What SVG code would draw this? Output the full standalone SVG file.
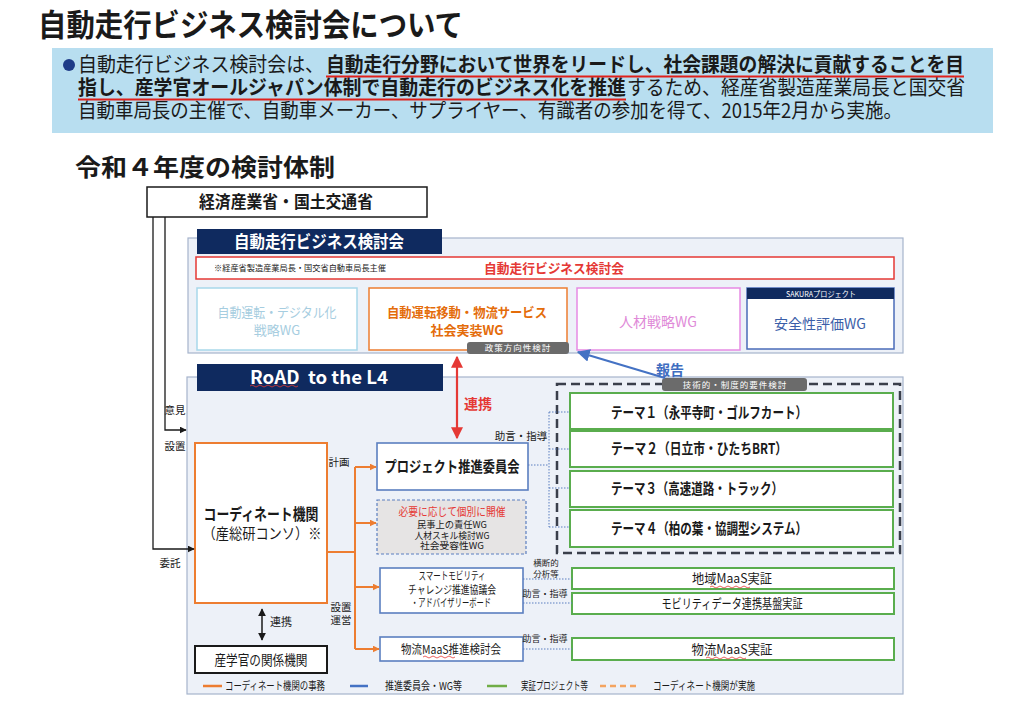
<svg xmlns="http://www.w3.org/2000/svg" width="1024" height="708" viewBox="0 0 1024 708">
<defs>
<style>
text{font-family:"Noto Sans CJK JP","Noto Sans",sans-serif;fill:#1a1a1a}
.b{font-weight:700}
.m{text-anchor:middle}
.w{fill:#ffffff}
.panel{fill:#edf1f8;stroke:#a6b4cc;stroke-width:1.2}
.navy{fill:#0f2a5f}
.tag{fill:#6b6b6b}
.tagt{fill:#ffffff;font-size:8.5px;text-anchor:middle;letter-spacing:1px}
.green{fill:#ffffff;stroke:#5aad4e;stroke-width:2}
.bluebox{fill:#ffffff;stroke:#5b7fc0;stroke-width:1.6}
.orl{fill:none;stroke:#ed7d31;stroke-width:2}
.dot{fill:none;stroke:#5b7fc0;stroke-width:1;stroke-dasharray:1.5 1.5}
.blk{fill:none;stroke:#1a1a1a;stroke-width:1.3}
.sq{fill:none;stroke:#e53935;stroke-width:0.8}
.lab{font-size:10.5px}
.sm{font-size:9px}
.leg{font-size:11px}
</style>
<marker id="ao" viewBox="0 0 10 10" refX="9" refY="5" markerWidth="7" markerHeight="7" markerUnits="userSpaceOnUse" orient="auto"><path d="M0,0 L10,5 L0,10 z" fill="#ed7d31"/></marker>
<marker id="ak" viewBox="0 0 10 10" refX="9" refY="5" markerWidth="7" markerHeight="7" markerUnits="userSpaceOnUse" orient="auto"><path d="M0,0 L10,5 L0,10 z" fill="#1a1a1a"/></marker>
<marker id="ar" viewBox="0 0 10 10" refX="9" refY="5" markerWidth="12" markerHeight="12" markerUnits="userSpaceOnUse" orient="auto-start-reverse"><path d="M0,0 L10,5 L0,10 z" fill="#e53935"/></marker>
<marker id="ab" viewBox="0 0 10 10" refX="9" refY="5" markerWidth="13" markerHeight="13" markerUnits="userSpaceOnUse" orient="auto"><path d="M0,0 L10,5 L0,10 z" fill="#4472c4"/></marker>
<marker id="akk" viewBox="0 0 10 10" refX="9" refY="5" markerWidth="8" markerHeight="8" markerUnits="userSpaceOnUse" orient="auto-start-reverse"><path d="M0,0 L10,5 L0,10 z" fill="#1a1a1a"/></marker>
</defs>
<rect width="1024" height="708" fill="#ffffff"/>

<g id="header">
<text x="38" y="36" class="b" font-size="31" textLength="425" lengthAdjust="spacingAndGlyphs">自動走行ビジネス検討会について</text>
<rect x="52" y="48" width="941" height="85" fill="#b8def0"/>
<circle cx="69" cy="65" r="6" fill="#1f3c88"/>
<text font-size="20"><tspan x="78" y="72" textLength="246" lengthAdjust="spacingAndGlyphs">自動走行ビジネス検討会は、</tspan><tspan x="326" y="72" font-weight="700" textLength="638" lengthAdjust="spacingAndGlyphs">自動走行分野において世界をリードし、社会課題の解決に貢献することを目</tspan><tspan x="78" y="95" font-weight="700" textLength="548" lengthAdjust="spacingAndGlyphs">指し、産学官オールジャパン体制で自動走行のビジネス化を推進</tspan><tspan x="627" y="95" textLength="338" lengthAdjust="spacingAndGlyphs">するため、経産省製造産業局長と国交省</tspan><tspan x="78" y="118" textLength="824" lengthAdjust="spacingAndGlyphs">自動車局長の主催で、自動車メーカー、サプライヤー、有識者の参加を得て、2015年2月から実施。</tspan></text>
<line x1="326" y1="76.5" x2="964" y2="76.5" stroke="#e0201b" stroke-width="2"/>
<line x1="78" y1="99.5" x2="626" y2="99.5" stroke="#e0201b" stroke-width="2"/>
<text x="75" y="176" class="b" font-size="24" textLength="260" lengthAdjust="spacingAndGlyphs">令和４年度の検討体制</text>
</g>

<g id="ministries">
<rect x="147" y="187" width="280" height="30" fill="#ffffff" stroke="#1a1a1a" stroke-width="1.5"/>
<text x="286" y="208" class="b m" font-size="17" textLength="174" lengthAdjust="spacingAndGlyphs">経済産業省・国土交通省</text>
</g>

<g id="business-council">
<rect x="188" y="238" width="715" height="115" class="panel"/>
<rect x="197" y="229" width="245" height="25" class="navy"/>
<text x="319" y="248" class="b m w" font-size="17" textLength="170" lengthAdjust="spacingAndGlyphs">自動走行ビジネス検討会</text>
<rect x="196" y="257" width="698" height="22" fill="#ffffff" stroke="#e53935" stroke-width="1.5"/>
<text x="214" y="271" font-size="8.5" textLength="172" lengthAdjust="spacingAndGlyphs">※経産省製造産業局長・国交省自動車局長主催</text>
<text x="554" y="273" class="b m" font-size="13" style="fill:#e53935" textLength="140" lengthAdjust="spacingAndGlyphs">自動走行ビジネス検討会</text>
</g>

<g id="wg-digital">
<rect x="197" y="288" width="160" height="62" fill="#ffffff" stroke="#a8d8ea" stroke-width="1.5"/>
<text class="m" font-size="13" style="fill:#a6cde0"><tspan x="277" y="317" textLength="119" lengthAdjust="spacingAndGlyphs">自動運転・デジタル化</tspan><tspan x="277" y="335">戦略WG</tspan></text>
</g>

<g id="wg-service">
<rect x="369" y="288" width="198" height="62" fill="#ffffff" stroke="#ed7d31" stroke-width="1.5"/>
<text class="b m" font-size="13" style="fill:#e46c0a"><tspan x="467" y="317" textLength="160" lengthAdjust="spacingAndGlyphs">自動運転移動・物流サービス</tspan><tspan x="467" y="335">社会実装WG</tspan></text>
<rect x="467" y="342" width="102" height="12" rx="3" class="tag"/>
<text x="518" y="351" class="tagt">政策方向性検討</text>
</g>

<g id="wg-human">
<rect x="577" y="288" width="163" height="62" fill="#ffffff" stroke="#e68be3" stroke-width="1.5"/>
<text x="658" y="327" class="m" font-size="14" style="fill:#e08ad8" textLength="78" lengthAdjust="spacingAndGlyphs">人材戦略WG</text>
</g>

<g id="wg-safety">
<rect x="747" y="288" width="147" height="61" fill="#ffffff" stroke="#4a6bb8" stroke-width="1.5"/>
<rect x="747" y="288" width="147" height="11" class="navy"/>
<text x="821" y="297" class="m w" font-size="8" textLength="70" lengthAdjust="spacingAndGlyphs">SAKURAプロジェクト</text>
<text x="820" y="329" class="m" font-size="14" style="fill:#3a5ea8" textLength="92" lengthAdjust="spacingAndGlyphs">安全性評価WG</text>
</g>

<g id="road-panel">
<rect x="187" y="377" width="716" height="317" class="panel"/>
<rect x="197" y="364" width="246" height="27" class="navy"/>
<text x="319" y="384" class="b m w" font-size="18" style="white-space:pre" textLength="138" lengthAdjust="spacingAndGlyphs">RoAD  to the L4</text>
<path class="sq" d="M250,386 q2,-2 4,0 t4,0 t4,0 t4,0 t4,0 t4,0 t4,0 t4,0 t4,0 t4,0 t4,0 t4,0"/>
</g>

<g id="coordinator">
<rect x="195" y="443" width="132" height="160" fill="#ffffff" stroke="#ed7d31" stroke-width="2"/>
<text class="m"><tspan x="261" y="520" font-weight="700" font-size="16" textLength="115" lengthAdjust="spacingAndGlyphs">コーディネート機関</tspan><tspan x="262" y="539" font-size="15" textLength="119" lengthAdjust="spacingAndGlyphs">（産総研コンソ）※</tspan></text>
</g>

<g id="related-orgs">
<rect x="195" y="646" width="132" height="27" fill="#ffffff" stroke="#1a1a1a" stroke-width="2"/>
<text x="261" y="665" class="m" font-size="14" textLength="93" lengthAdjust="spacingAndGlyphs">産学官の関係機関</text>
</g>

<g id="project-committee">
<rect x="377" y="443" width="151" height="47" class="bluebox"/>
<text x="452" y="472" class="b m" font-size="15" textLength="135" lengthAdjust="spacingAndGlyphs">プロジェクト推進委員会</text>
</g>

<g id="individual-wg">
<rect x="377" y="500" width="149" height="54" fill="#e6e4e4" stroke="#5b7fc0" stroke-width="1.2" stroke-dasharray="3 2"/>
<text class="m" font-size="9.5"><tspan x="452" y="516" font-size="11.5" style="fill:#e53935" textLength="107" lengthAdjust="spacingAndGlyphs">必要に応じて個別に開催</tspan><tspan x="452" y="528" textLength="70" lengthAdjust="spacingAndGlyphs">民事上の責任WG</tspan><tspan x="452" y="538.5" textLength="75" lengthAdjust="spacingAndGlyphs">人材スキル検討WG</tspan><tspan x="452" y="549" textLength="64" lengthAdjust="spacingAndGlyphs">社会受容性WG</tspan></text>
</g>

<g id="smart-mobility">
<rect x="380" y="568" width="143" height="45" class="bluebox"/>
<text class="m" font-size="11"><tspan x="452" y="580" textLength="67" lengthAdjust="spacingAndGlyphs">スマートモビリティ</tspan><tspan x="452" y="593.5" textLength="88" lengthAdjust="spacingAndGlyphs">チャレンジ推進協議会</tspan><tspan x="451" y="607" textLength="80" lengthAdjust="spacingAndGlyphs">・アドバイザリーボード</tspan></text>
</g>

<g id="logistics-maas-council">
<rect x="380" y="637" width="143" height="24" class="bluebox"/>
<text x="451" y="654" class="m" font-size="12" textLength="100" lengthAdjust="spacingAndGlyphs">物流MaaS推進検討会</text>
<path class="sq" d="M423,657 q2,-2 4,0 t4,0 t4,0 t4,0 t4,0 t4,0 t4,0 t4,0"/>
</g>

<g id="themes">
<rect x="557" y="384" width="343" height="169" fill="none" stroke="#3a3f4b" stroke-width="2.5" stroke-dasharray="9 5"/>
<rect x="662" y="378" width="145" height="13" rx="3" class="tag"/>
<text x="735" y="388" class="tagt">技術的・制度的要件検討</text>
</g>
<g id="theme1">
<rect x="570" y="393" width="323" height="36" class="green"/>
<text x="611" y="418" class="b" font-size="15" textLength="196" lengthAdjust="spacingAndGlyphs">テーマ１（永平寺町・ゴルフカート）</text>
</g>
<g id="theme2">
<rect x="570" y="431" width="323" height="36" class="green"/>
<text x="611" y="454" class="b" font-size="15" textLength="176" lengthAdjust="spacingAndGlyphs">テーマ２（日立市・ひたちBRT）</text>
</g>
<g id="theme3">
<rect x="570" y="471" width="323" height="36" class="green"/>
<text x="611" y="494" class="b" font-size="15" textLength="172" lengthAdjust="spacingAndGlyphs">テーマ３（高速道路・トラック）</text>
</g>
<g id="theme4">
<rect x="570" y="510" width="323" height="37" class="green"/>
<text x="611" y="534" class="b" font-size="15" textLength="196" lengthAdjust="spacingAndGlyphs">テーマ４（柏の葉・協調型システム）</text>
</g>

<g id="regional-maas">
<rect x="572" y="568" width="322" height="21" class="green"/>
<text x="732" y="583" class="m" font-size="13" textLength="80" lengthAdjust="spacingAndGlyphs">地域MaaS実証</text>
<path class="sq" d="M710,587 q2,-2 4,0 t4,0 t4,0 t4,0 t4,0 t4,0 t4,0 t4,0 t4,0 t4,0"/>
</g>
<g id="mobility-data">
<rect x="572" y="593" width="322" height="21" class="green"/>
<text x="732" y="608" class="m" font-size="13" textLength="141" lengthAdjust="spacingAndGlyphs">モビリティデータ連携基盤実証</text>
</g>
<g id="logistics-maas">
<rect x="572" y="638" width="322" height="22" class="green"/>
<text x="732" y="654" class="m" font-size="13" textLength="81" lengthAdjust="spacingAndGlyphs">物流MaaS実証</text>
<path class="sq" d="M706,658 q2,-2 4,0 t4,0 t4,0 t4,0 t4,0 t4,0 t4,0 t4,0 t4,0 t4,0"/>
</g>

<g id="connectors">
<polyline class="blk" points="153,217 153,549 194,549" marker-end="url(#ak)"/>
<polyline class="blk" points="165,217 165,430 186,430" marker-end="url(#ak)"/>
<text x="175" y="414" class="m lab">意見</text>
<text x="175" y="450" class="m lab">設置</text>
<text x="170" y="567" class="m lab">委託</text>

<polyline class="orl" points="327,552 355,552"/>
<line class="orl" x1="355" y1="467" x2="355" y2="649"/>
<line class="orl" x1="355" y1="467" x2="376" y2="467" marker-end="url(#ao)"/>
<line class="orl" x1="355" y1="523" x2="376" y2="523" marker-end="url(#ao)"/>
<line class="orl" x1="355" y1="587" x2="379" y2="587" marker-end="url(#ao)"/>
<line class="orl" x1="355" y1="649" x2="379" y2="649" marker-end="url(#ao)"/>
<text x="339" y="466" class="m lab">計画</text>
<text class="m" font-size="10.5"><tspan x="341" y="611">設置</tspan><tspan x="341" y="624">運営</tspan></text>

<line x1="262" y1="609" x2="262" y2="640" stroke="#1a1a1a" stroke-width="1.5" marker-start="url(#akk)" marker-end="url(#akk)"/>
<text x="281" y="626" class="m" font-size="11">連携</text>

<line x1="457" y1="357" x2="457" y2="438" stroke="#e53935" stroke-width="2.2" marker-start="url(#ar)" marker-end="url(#ar)"/>
<text x="478" y="409" class="b m" font-size="14" style="fill:#e53935">連携</text>

<line x1="665" y1="378" x2="578" y2="352" stroke="#4472c4" stroke-width="2.2" marker-end="url(#ab)"/>
<text x="670" y="375" class="b m" font-size="14" style="fill:#3e6dc0">報告</text>

<line class="dot" x1="528" y1="465" x2="549" y2="465"/>
<line class="dot" x1="549" y1="412" x2="549" y2="527"/>
<line class="dot" x1="549" y1="412" x2="570" y2="412"/>
<line class="dot" x1="549" y1="449" x2="570" y2="449"/>
<line class="dot" x1="549" y1="488" x2="570" y2="488"/>
<line class="dot" x1="549" y1="527" x2="570" y2="527"/>
<text x="521" y="440" class="m lab">助言・指導</text>

<line class="dot" x1="523" y1="579" x2="572" y2="579"/>
<line class="dot" x1="523" y1="603" x2="572" y2="603"/>
<line class="dot" x1="523" y1="649" x2="572" y2="649"/>
<text class="m" font-size="8.5"><tspan x="546" y="566">横断的</tspan><tspan x="546" y="577">分析等</tspan></text>
<text x="545" y="597" class="m sm">助言・指導</text>
<text x="545" y="642" class="m sm">助言・指導</text>
</g>

<g id="legend">
<line x1="203" y1="686" x2="222" y2="686" stroke="#ed7d31" stroke-width="2.5"/>
<text x="225" y="690" class="leg" textLength="100" lengthAdjust="spacingAndGlyphs">コーディネート機関の事務</text>
<line x1="350" y1="686" x2="368" y2="686" stroke="#4472c4" stroke-width="2.5"/>
<text x="385" y="690" class="leg" textLength="77" lengthAdjust="spacingAndGlyphs">推進委員会・WG等</text>
<line x1="487" y1="686" x2="507" y2="686" stroke="#70ad47" stroke-width="2.5"/>
<text x="521" y="690" class="leg" textLength="67" lengthAdjust="spacingAndGlyphs">実証プロジェクト等</text>
<line x1="600" y1="686" x2="638" y2="686" stroke="#f4a460" stroke-width="2.5" stroke-dasharray="6 4"/>
<text x="653" y="690" class="leg" textLength="102" lengthAdjust="spacingAndGlyphs">コーディネート機関が実施</text>
</g>
</svg>
